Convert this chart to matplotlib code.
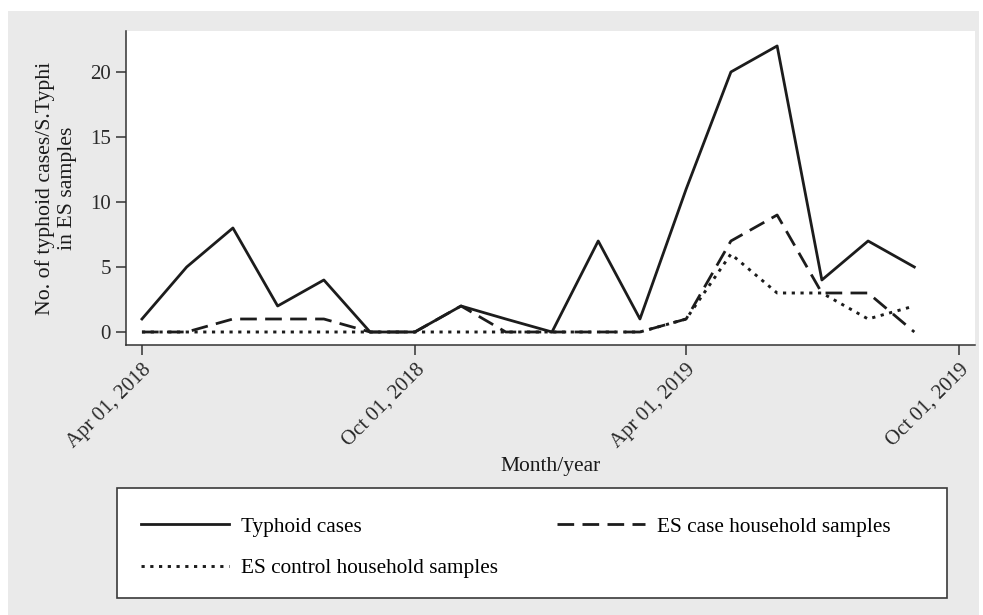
import pandas as pd
import matplotlib.pyplot as plt
import matplotlib.dates as mdates
from matplotlib.patches import Rectangle

plt.rcParams['font.family'] = ['Liberation Serif', 'DejaVu Serif']

meses = pd.date_range("2018-04-01", periods=18, freq="MS")
typhoid = [1, 5, 8, 2, 4, 0, 0, 2, 1, 0, 7, 1, 11, 20, 22, 4, 7, 5]
es_case = [0, 0, 1, 1, 1, 0, 0, 2, 0, 0, 0, 0, 1, 7, 9, 3, 3, 0]
es_control = [0, 0, 0, 0, 0, 0, 0, 0, 0, 0, 0, 0, 1, 6, 3, 3, 1, 2]
ticks = pd.to_datetime(["2018-04-01", "2018-10-01", "2019-04-01", "2019-10-01"])

W, H = 983, 615
fig = plt.figure(figsize=(W / 100, H / 100), dpi=100, facecolor="white")
# gray graph region + white legend box (pixel positions from the reference)
fig.patches.append(Rectangle((8 / W, 0), 971 / W, (H - 11) / H,
                             transform=fig.transFigure, facecolor="#eaeaea",
                             edgecolor="none", zorder=-10))
fig.patches.append(Rectangle((117 / W, (H - 598) / H), 830 / W, 110 / H,
                             transform=fig.transFigure, facecolor="white",
                             edgecolor="#3a3a3a", lw=1.2, zorder=-5))

ax = fig.add_axes([126 / W, (H - 345) / H, (975 - 126) / W, (345 - 31) / H])
ax.set_facecolor("white")

col = "#1c1c1c"
l1, = ax.plot(meses, typhoid, color=col, lw=2.0, label="Typhoid cases", zorder=3)
l2, = ax.plot(meses, es_case, color=col, lw=2.0, dashes=(6, 3),
              label="ES case household samples", zorder=2)
l3, = ax.plot(meses, es_control, color=col, lw=2.1, dashes=(1.1, 1.9),
              label="ES control household samples", zorder=2)

pad = pd.Timedelta(days=10.7)
ax.set_xlim(ticks[0] - pad, ticks[-1] + pad)
ax.set_ylim(-1, 23.15)
ax.set_yticks([0, 5, 10, 15, 20])
ax.set_xticks(ticks)
ax.xaxis.set_major_formatter(mdates.DateFormatter("%b %d, %Y"))

for s in ["top", "right"]:
    ax.spines[s].set_visible(False)
for s in ["left", "bottom"]:
    ax.spines[s].set_color("#333333")
    ax.spines[s].set_linewidth(1.1)

ax.tick_params(axis="both", length=7, width=1.1, color="#333333",
               labelsize=15, labelcolor="#2a2a2a", pad=4)
for lab in ax.get_xticklabels():
    lab.set_rotation(45)
    lab.set_ha("right")
    lab.set_va("top")
    lab.set_rotation_mode("anchor")

ax.set_xlabel("Month/year", fontsize=15.5, color="#1a1a1a", labelpad=4)
ax.set_ylabel("No. of typhoid cases/S.Typhi\nin ES samples", fontsize=15.7,
              color="#1a1a1a", linespacing=1.2)
ax.yaxis.set_label_coords(-0.058, 0.5)

# column-major fill: put "ES case" in the second column of row 1
leg = fig.legend([l1, l3, l2], [l1.get_label(), l3.get_label(), l2.get_label()],
                 loc="upper left", ncol=2,
                 bbox_to_anchor=(141 / W, (H - 517) / H),
                 bbox_transform=fig.transFigure, fontsize=15.3,
                 frameon=False, handlelength=4.14, handletextpad=0.56,
                 borderpad=0, labelspacing=1.0, columnspacing=2.8,
                 borderaxespad=0)

plt.savefig("out.png", dpi=100, facecolor=fig.get_facecolor())
